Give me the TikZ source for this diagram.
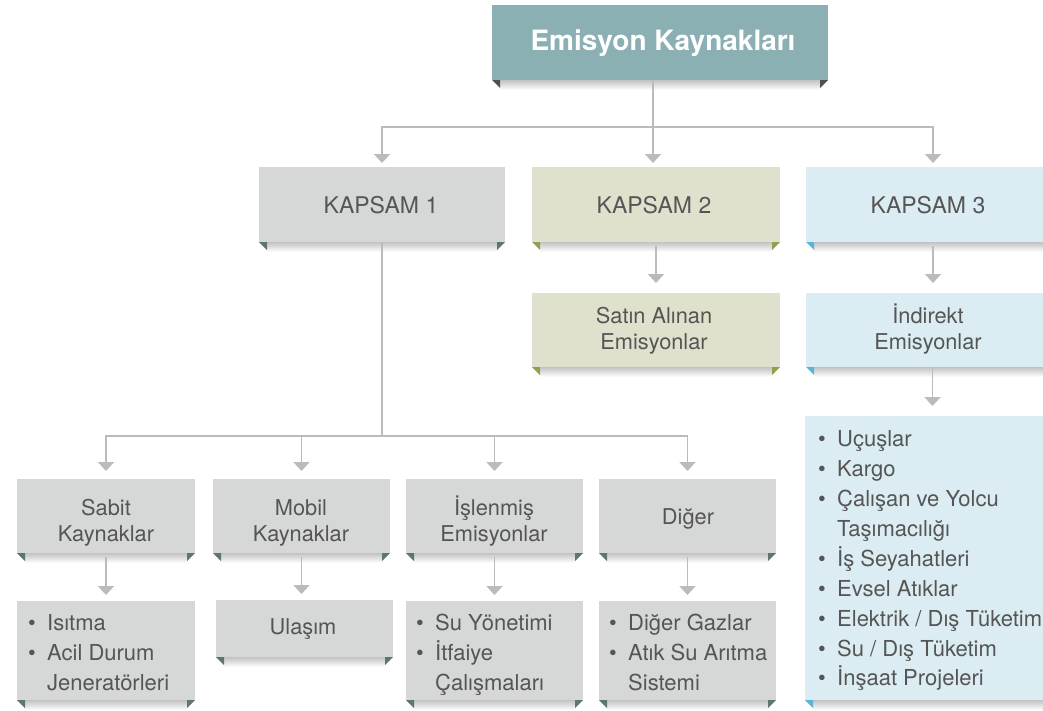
\documentclass[tikz,border=0pt]{standalone}
\usepackage{fontspec}
\setmainfont{TeX Gyre Heros}
\usetikzlibrary{arrows.meta,calc}
\definecolor{titlebg}{HTML}{8BB0B3}
\definecolor{greybg}{HTML}{D6D7D7}
\definecolor{olivebg}{HTML}{E0E1CC}
\definecolor{bluebg}{HTML}{DBEDF2}
\definecolor{foldgrey}{HTML}{4F4F4F}
\definecolor{foldslate}{HTML}{5E7670}
\definecolor{foldolive}{HTML}{8FA050}
\definecolor{foldblue}{HTML}{5AB4D6}
\definecolor{txt}{HTML}{555555}
\definecolor{lineg}{HTML}{BBBBBB}
\newcommand\stt{\rule[-6.5pt]{0pt}{26.5pt}}
\newcommand\itm[1]{\stt\makebox[19pt][l]{\textbullet}#1}
\newcommand\cnt[1]{\stt\hspace*{19pt}#1}
\newcommand\ribbon[2]{%
  \fill[top color=black!24, bottom color=white] ($(#1.south west)+(8,0)$) rectangle ($(#1.south east)+(-8,10)$);
  \fill[#2] (#1.south west) -- ++(8,0) -- ++(0,8) -- cycle;
  \fill[#2] (#1.south east) -- ++(-8,0) -- ++(0,8) -- cycle;
}
\begin{document}
\begin{tikzpicture}[x=1pt,y=-1pt,
  boxshape/.style={draw=none, inner sep=0pt, outer sep=0pt, anchor=north west},
  lbl/.style={text=txt, inner sep=0pt, font=\fontsize{21.8}{26.7}\selectfont, align=center},
  kap/.style={text=txt, inner sep=0pt, font=\fontsize{23}{27}\selectfont, anchor=base},
  lst/.style={text=txt, inner sep=0pt, font=\fontsize{22}{29.9}\selectfont, align=left, anchor=north west},
  conn/.style={draw=lineg, line width=1.8pt},
  arr/.style={conn, -{Triangle[width=16pt,length=9pt]}}]
\useasboundingbox (0,0) rectangle (1043,710);
\clip (0,0) rectangle (1043,710);
\fill[white] (0,0) rectangle (1043,710);

% boxes
\node[boxshape, fill=titlebg, minimum width=336pt, minimum height=75pt] (T) at (492,5) {};
\node[boxshape, fill=greybg, minimum width=246pt, minimum height=75pt] (K1) at (259,167) {};
\node[boxshape, fill=olivebg, minimum width=248pt, minimum height=75pt] (K2) at (532,167) {};
\node[boxshape, fill=bluebg, minimum width=254pt, minimum height=75pt] (K3) at (806,167) {};
\node[boxshape, fill=olivebg, minimum width=248pt, minimum height=74pt] (S2) at (532,293) {};
\node[boxshape, fill=bluebg, minimum width=254pt, minimum height=74pt] (S3) at (806,293) {};
\node[boxshape, fill=bluebg, minimum width=255pt, minimum height=284pt] (L3) at (805,416) {};
\node[boxshape, fill=greybg, minimum width=178pt, minimum height=74pt] (A) at (17,479) {};
\node[boxshape, fill=greybg, minimum width=177pt, minimum height=74pt] (B) at (213,479) {};
\node[boxshape, fill=greybg, minimum width=177pt, minimum height=74pt] (C) at (406,479) {};
\node[boxshape, fill=greybg, minimum width=177pt, minimum height=74pt] (D) at (599,479) {};
\node[boxshape, fill=greybg, minimum width=178pt, minimum height=99pt] (A5) at (17,601) {};
\node[boxshape, fill=greybg, minimum width=177pt, minimum height=57pt] (B5) at (216,600) {};
\node[boxshape, fill=greybg, minimum width=177pt, minimum height=99pt] (C5) at (406,601) {};
\node[boxshape, fill=greybg, minimum width=177pt, minimum height=99pt] (D5) at (599,601) {};

% ribbons (shadow + folded corners)
\ribbon{T}{foldgrey}
\ribbon{K1}{foldslate}
\ribbon{K2}{foldolive}
\ribbon{K3}{foldblue}
\ribbon{S2}{foldolive}
\ribbon{S3}{foldblue}
\ribbon{L3}{foldblue}
\ribbon{A}{foldslate}
\ribbon{B}{foldslate}
\ribbon{C}{foldslate}
\ribbon{D}{foldslate}
\ribbon{A5}{foldslate}
\ribbon{B5}{foldslate}
\ribbon{C5}{foldslate}
\ribbon{D5}{foldslate}

% texts
\node[text=white, inner sep=0pt, font=\fontsize{28}{32}\selectfont\bfseries, anchor=base] (Tt) at (663,50) {Emisyon Kaynakları};
\node[kap] (K1t) at (381,213) {KAPSAM 1};
\node[kap] (K2t) at (654,213) {KAPSAM 2};
\node[kap] (K3t) at (928,213) {KAPSAM 3};
\node[lbl, anchor=north] (S2t) at (654,303) {\stt Satın Alınan\\\stt Emisyonlar};
\node[lbl, anchor=north] (S3t) at (928,303) {\stt İndirekt\\\stt Emisyonlar};
\node[lbl, anchor=north] (At) at (106,495) {\stt Sabit\\\stt Kaynaklar};
\node[lbl, anchor=north] (Bt) at (301,495) {\stt Mobil\\\stt Kaynaklar};
\node[lbl, anchor=north] (Ct) at (494,495) {\stt İşlenmiş\\\stt Emisyonlar};
\node[lbl, anchor=base] (Dt) at (688,524) {Diğer};
\node[lbl, anchor=base] (B5t) at (303,634) {Ulaşım};
\node[lst] (A5t) at (28,610) {\itm{Isıtma}\\\itm{Acil Durum}\\\cnt{Jeneratörleri}};
\node[lst] (C5t) at (416,610) {\itm{Su Yönetimi}\\\itm{İtfaiye}\\\cnt{Çalışmaları}};
\node[lst] (D5t) at (609,610) {\itm{Diğer Gazlar}\\\itm{Atık Su Arıtma}\\\cnt{Sistemi}};
\node[lst] (L3t) at (818,426.5) {\itm{Uçuşlar}\\\itm{Kargo}\\\itm{Çalışan ve Yolcu}\\\cnt{Taşımacılığı}\\\itm{İş Seyahatleri}\\\itm{Evsel Atıklar}\\\itm{Elektrik / Dış Tüketim}\\\itm{Su / Dış Tüketim}\\\itm{İnşaat Projeleri}};

% connectors
\coordinate (j0) at (653,127);
\draw[conn] (T.south -| j0) -- (j0);
\draw[arr, shorten >=4pt] (j0) -| (K1.north);
\draw[arr, shorten >=4pt] (j0) -- (j0 |- K2.north);
\draw[arr, shorten >=4pt] (j0) -| (K3.north);

\coordinate (j1) at (382,436);
\draw[conn] (K1.south) -- (j1);
\draw[arr, shorten >=8pt] (j1) -| (A.north);
\draw[arr, shorten >=8pt] (j1) -| (B.north);
\draw[arr, shorten >=8pt] (j1) -| (C.north);
\draw[arr, shorten >=8pt] (j1) -| (D.north);

\draw[arr, shorten <=4pt, shorten >=10pt] (K2.south -| S2.north) -- (S2.north);
\draw[arr, shorten <=4pt, shorten >=10pt] (K3.south -| S3.north) -- (S3.north);
\draw[arr, shorten <=1pt, shorten >=10pt] (S3.south -| L3.north) -- (L3.north);

\draw[arr, shorten <=4pt, shorten >=6pt] (A.south) -- (A.south |- A5.north);
\draw[arr, shorten <=4pt, shorten >=6pt] (B.south) -- (B.south |- B5.north);
\draw[arr, shorten <=4pt, shorten >=6pt] (C.south) -- (C.south |- C5.north);
\draw[arr, shorten <=4pt, shorten >=6pt] (D.south) -- (D.south |- D5.north);
\end{tikzpicture}
\end{document}
